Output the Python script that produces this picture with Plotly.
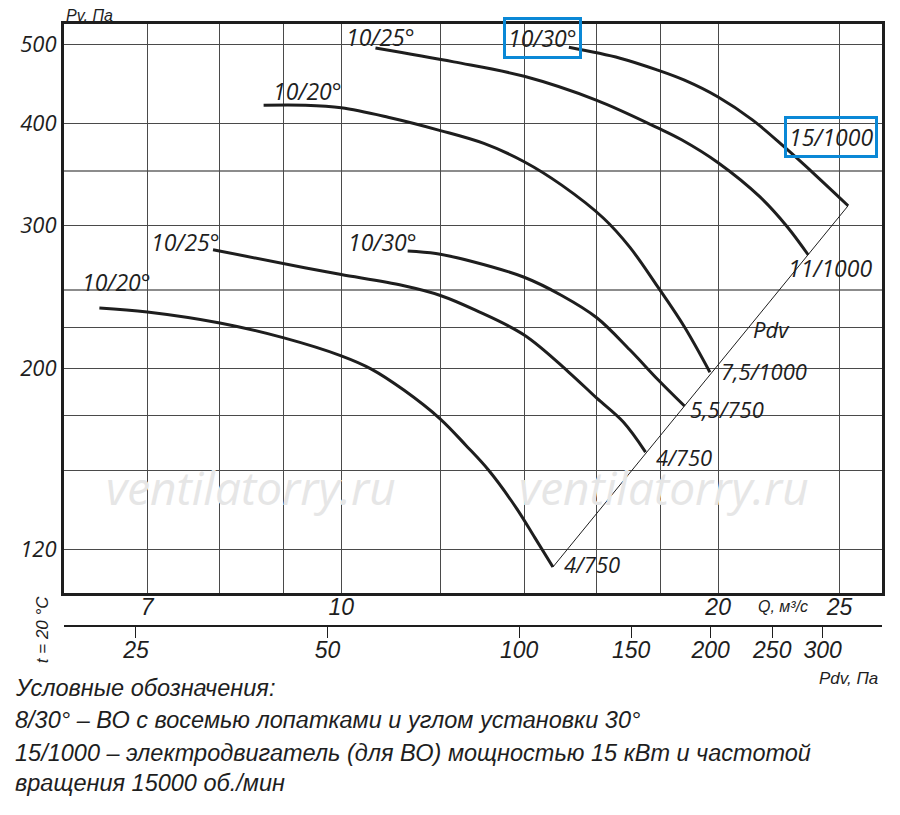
import numpy as np
import plotly.graph_objs as go

# расход Q, м3/с и полное давление Pv, Па для каждой характеристики
q_30_15 = [15.2, 16.7, 17.9, 18.8, 20.0, 21.3, 22.6, 24.0, 25.4]
p_30_15 = [496, 481, 465, 452, 431, 404, 374, 344, 317]

q_25_11 = [10.65, 12.3, 14.0, 16.0, 17.9, 18.7, 20.0, 21.6, 22.7, 23.6]
p_25_11 = [495, 476, 457, 427, 395, 382, 358, 325, 299, 276]

q_20_75 = [8.67, 9.35, 10.0, 10.9, 12.0, 13.0, 14.0, 15.0, 16.2, 17.0, 17.9, 18.8, 19.7]
p_20_75 = [421, 421, 418, 407, 392, 378, 359, 336, 306, 282, 252, 225, 198]

q_30_55 = [11.3, 11.9, 12.7, 14.0, 15.0, 16.0, 17.0, 17.9, 18.8]
p_30_55 = [279, 277, 271, 259, 246, 231, 211, 194, 180]

q_25_4 = [7.9, 9.35, 10.0, 11.2, 12.0, 12.8, 14.0, 15.2, 16.0, 16.8, 17.5]
p_25_4 = [280, 266, 261, 253, 246, 236, 220, 198, 184, 172, 158]

q_20_4 = [6.41, 7.0, 8.0, 9.0, 10.0, 10.57, 11.22, 12.0, 12.59, 13.11, 13.8, 14.28, 14.76]
p_20_4 = [237.5, 234.8, 227.6, 218.2, 207.4, 199.8, 188.3, 173.5, 160.8, 150.2, 134.9, 124.0, 114.2]

# сетка и подписи осей
q_grid = [7, 8, 9, 10, 12, 14, 16, 18, 20, 25]
q_text = ['7', '', '', '10', '', '', '', '', '20', '25']
p_grid = [120, 150, 175, 200, 225, 300, 400, 500]
p_text = ['120', '', '', '200', '', '300', '400', '500']
p_grid_light = [250, 350]
pdv_ticks = [25, 50, 100, 150, 200, 250, 300]

ink = '#1e1e1e'
blue = '#0a88d6'
f_lab = 'Open Sans, Liberation Sans, sans-serif'
f_nar = 'Liberation Sans, Arial, sans-serif'

curves = [
    (q_30_15, p_30_15, '10/30° 15/1000'),
    (q_25_11, p_25_11, '10/25° 11/1000'),
    (q_20_75, p_20_75, '10/20° 7,5/1000'),
    (q_30_55, p_30_55, '10/30° 5,5/750'),
    (q_25_4, p_25_4, '10/25° 4/750'),
    (q_20_4, p_20_4, '10/20° 4/750'),
]

data = []
for q, p, nm in curves:
    data.append(go.Scatter(x=q, y=p, mode='lines', name=nm,
                           line={'color': ink, 'width': 3,
                                 'shape': 'spline', 'smoothing': 1.0}))

# линия Pdv через концы характеристик
data.append(go.Scatter(x=[q_20_4[-1], q_30_15[-1]], y=[p_20_4[-1], p_30_15[-1]],
                       mode='lines', name='Pdv',
                       line={'color': ink, 'width': 1}))

# невидимый след для второй оси Pdv
data.append(go.Scatter(x=pdv_ticks, y=[150] * len(pdv_ticks), xaxis='x2',
                       mode='markers', marker={'opacity': 0},
                       hoverinfo='skip', showlegend=False))

# подписи у кривых: текст, точка, привязка, сдвиг x, сдвиг y, рамка, размер
labels = [
    ('10/25°', q_25_11[0], p_25_11[0], 'center', 5, 11, False, 23),
    ('10/30°', q_30_15[0], p_30_15[0], 'center', -26, 9, True, 23),
    ('10/20°', q_20_75[0], p_20_75[0], 'center', 44, 14, False, 23),
    ('10/25°', q_25_4[0], p_25_4[0], 'center', -28, 8, False, 23),
    ('10/30°', q_30_55[0], p_30_55[0], 'center', -25, 9, False, 23),
    ('10/20°', q_20_4[0], p_20_4[0], 'center', 17, 26, False, 23),
    ('15/1000', q_30_15[-1], p_30_15[-1], 'center', -17, 69, True, 23),
    ('11/1000', q_25_11[-1], p_25_11[-1], 'center', 22, -13, False, 23),
    ('7,5/1000', q_20_75[-1], p_20_75[-1], 'left', 9, 1, False, 22),
    ('5,5/750', q_30_55[-1], p_30_55[-1], 'left', 4, -3, False, 22),
    ('4/750', q_25_4[-1], p_25_4[-1], 'left', 8, -5, False, 22),
    ('4/750', q_20_4[-1], p_20_4[-1], 'left', 9, 3, False, 22),
]

ann = []
for t, q, p, xa, dx, dy, box, fs in labels:
    a = dict(text=t, x=np.log10(q), y=np.log10(p), xref='x', yref='y',
             xanchor=xa, yanchor='middle', xshift=dx, yshift=dy,
             showarrow=False,
             font={'family': f_lab, 'size': fs, 'color': ink, 'style': 'italic'})
    if box:
        a.update(bordercolor=blue, borderwidth=3, borderpad=2)
    ann.append(a)

# надписи вне поля графика
def txt(t, x, y, size, xa='center', fam=f_nar, color=ink, angle=0):
    ann.append(dict(text=t, x=x, y=y, xref='paper', yref='paper',
                    xanchor=xa, yanchor='middle', showarrow=False, textangle=angle,
                    font={'family': fam, 'size': size, 'color': color, 'style': 'italic'}))

txt('ventilatorry.ru', 0.228, 0.315, 46, color='#e6e6e6', fam=f_lab)
txt('ventilatorry.ru', 0.733, 0.315, 46, color='#e6e6e6', fam=f_lab)
txt('Pdv', 0.8655, 0.5488, 22, fam=f_lab)
txt('Pv, Па', 0.0, 1.0133, 16, xa='left')
txt('Q, м³/с', 0.8788, 0.139, 16)
txt('Pdv, Па', 0.9976, 0.0325, 17, xa='right')
txt('t = 20 °C', -0.0267, 0.105, 17, angle=-90)
txt('Условные обозначения:', -0.062, 0.0178, 23.5, xa='left')
txt('8/30° – ВО с восемью лопатками и углом установки 30°', -0.062, -0.0296, 23.5, xa='left')
txt('15/1000 – электродвигатель (для ВО) мощностью 15 кВт и частотой', -0.062, -0.0784, 23.5, xa='left')
txt('вращения 15000 об./мин', -0.062, -0.1228, 23.5, xa='left')

layout = go.Layout(
    width=892, height=807,
    margin={'l': 49, 'r': 18, 't': 16, 'b': 115},
    paper_bgcolor='white', plot_bgcolor='white',
    showlegend=False,
    xaxis={'type': 'log', 'range': [0.7786, 1.4319],
           'tickvals': q_grid, 'ticktext': q_text, 'ticks': '',
           'ticklabelstandoff': -9,
           'showgrid': True, 'gridcolor': '#4a4a4a', 'gridwidth': 1,
           'showline': True, 'mirror': True, 'linecolor': ink, 'linewidth': 3,
           'zeroline': False,
           'tickfont': {'family': f_nar, 'size': 23, 'color': ink, 'style': 'italic'}},
    xaxis2={'type': 'log', 'range': [1.2848, 2.5704], 'overlaying': 'x',
            'anchor': 'free', 'position': 0.1095, 'side': 'bottom',
            'tickvals': pdv_ticks, 'ticks': 'outside', 'ticklen': 11,
            'tickcolor': ink, 'tickwidth': 1, 'ticklabelstandoff': -8,
            'showgrid': False, 'showline': True, 'linecolor': ink, 'linewidth': 2,
            'zeroline': False,
            'tickfont': {'family': f_nar, 'size': 23, 'color': ink, 'style': 'italic'}},
    yaxis={'type': 'log', 'range': [2.0258, 2.7241], 'domain': [0.1583, 1],
           'tickvals': p_grid, 'ticktext': p_text, 'ticks': '',
           'showgrid': True, 'gridcolor': '#4a4a4a', 'gridwidth': 1,
           'minor': {'tickvals': p_grid_light, 'showgrid': True,
                     'gridcolor': '#8c8c8c', 'gridwidth': 1.5, 'ticks': ''},
           'showline': True, 'mirror': True, 'linecolor': ink, 'linewidth': 3,
           'zeroline': False,
           'tickfont': {'family': f_lab, 'size': 22, 'color': ink, 'style': 'italic'}},
    annotations=ann,
)

fig = go.Figure(data=data, layout=layout)
fig.write_html("out.html")
